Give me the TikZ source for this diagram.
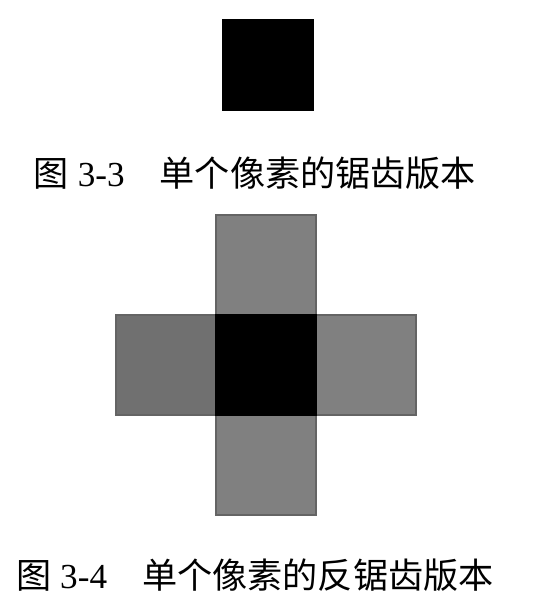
\documentclass[tikz,border=0pt]{standalone}
\usepackage{fontspec}
\setmainfont{Liberation Serif}
\newfontfamily\cjk{Noto Sans CJK SC}
\usepackage{tikz}
\definecolor{armgray}{RGB}{128, 128, 128}
\definecolor{leftgray}{RGB}{112, 112, 112}
\definecolor{edgegray}{RGB}{100, 100, 100}

\tikzset{
  pixel/.style={draw=edgegray, line width=0.6pt, inner sep=0pt, minimum size=#1cm},
  pixel/.default=1,
  caption/.style={font=\fontsize{10pt}{12pt}\selectfont, inner sep=0pt}
}

\begin{document}
\begin{tikzpicture}

\useasboundingbox (0, 0) rectangle (5.46, 6.10);

% aliased pixel
\node[pixel=0.905, fill=black, draw=black] (single) at (2.68, 5.45) {};

\node[caption] (capa) at (2.55, 4.37) {{\cjk 图} 3-3\quad{\cjk 单个像素的锯齿版本}};

% anti-aliased pixel
\pgfmathsetmacro{\dx}{2.657}
\pgfmathsetmacro{\dy}{2.446}

\node[pixel, fill=armgray] (up) at (\dx, 1 + \dy) {};
\node[pixel, fill=leftgray] (left) at (-1 + \dx, \dy) {};
\node[pixel, fill=armgray] (right) at (1 + \dx, \dy) {};
\node[pixel, fill=armgray] (down) at (\dx, -1 + \dy) {};
\node[pixel, fill=black, draw=black] (center) at (\dx, \dy) {};

\node[caption] (capb) at (2.55, 0.35) {{\cjk 图} 3-4\quad{\cjk 单个像素的反锯齿版本}};

\end{tikzpicture}
\end{document}
